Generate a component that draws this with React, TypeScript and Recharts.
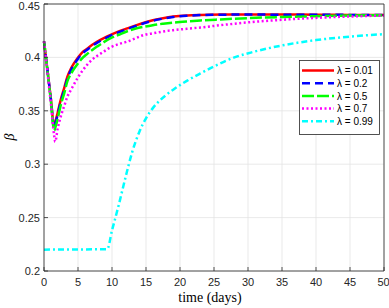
import React from 'react';
import { LineChart, Line, XAxis, YAxis, CartesianGrid, Legend } from 'recharts';

const timeMain = [0, 0.5, 1, 1.5, 1.65, 2, 2.45, 3, 3.43, 4, 4.9, 5.6, 6.4, 7.1, 7.84, 8.8, 9.8, 11, 12.25, 13.5, 14.7, 16, 17.5, 19, 21, 23, 26, 30, 35, 40, 45, 50];
const betaL001 = [0.415, 0.3885, 0.362, 0.3355, 0.339, 0.348, 0.36, 0.372, 0.3818, 0.39, 0.399, 0.4045, 0.4084, 0.4118, 0.4147, 0.418, 0.421, 0.4243, 0.4272, 0.43, 0.4325, 0.4347, 0.4367, 0.4382, 0.4393, 0.4398, 0.4401, 0.4402, 0.4401, 0.44, 0.4398, 0.4397];
const betaL02 = [0.415, 0.3885, 0.361, 0.334, 0.337, 0.346, 0.358, 0.37, 0.38, 0.3885, 0.3978, 0.4035, 0.4074, 0.4108, 0.4138, 0.4172, 0.4203, 0.4236, 0.4266, 0.4294, 0.432, 0.4343, 0.4363, 0.4378, 0.439, 0.4396, 0.44, 0.4401, 0.44, 0.4399, 0.4398, 0.4397];
const betaL05 = [0.415, 0.388, 0.36, 0.3315, 0.334, 0.342, 0.355, 0.367, 0.3775, 0.385, 0.3935, 0.399, 0.4035, 0.407, 0.4103, 0.4143, 0.418, 0.4212, 0.4245, 0.427, 0.4287, 0.4302, 0.4315, 0.4326, 0.4337, 0.4346, 0.4356, 0.4368, 0.4378, 0.4386, 0.4392, 0.4396];
const betaL07 = [0.415, 0.3865, 0.358, 0.3265, 0.321, 0.333, 0.3443, 0.355, 0.3631, 0.37, 0.3803, 0.387, 0.3935, 0.398, 0.4015, 0.4055, 0.4095, 0.4125, 0.4148, 0.418, 0.421, 0.4225, 0.4242, 0.4255, 0.4268, 0.428, 0.4302, 0.4328, 0.4352, 0.437, 0.4383, 0.4392];
const timeCyan = [0, 9.3, 10, 11, 12, 13, 14, 15, 16, 17, 18, 19, 21, 23, 25, 28, 31, 35, 40, 45, 50];
const betaL099 = [0.22, 0.2205, 0.238, 0.262, 0.288, 0.312, 0.33, 0.343, 0.3525, 0.3595, 0.365, 0.3698, 0.378, 0.385, 0.3915, 0.4, 0.4055, 0.4112, 0.4162, 0.4195, 0.4218];

const seriesNames = ['\u03bb = 0.01', '\u03bb = 0.2', '\u03bb = 0.5', '\u03bb = 0.7', '\u03bb = 0.99'];
const xTicks = [0, 5, 10, 15, 20, 25, 30, 35, 40, 45, 50];
const yTicks = [0.2, 0.25, 0.3, 0.35, 0.4, 0.45];
const yTickLabels = ['0.2', '0.25', '0.3', '0.35', '0.4', '0.45'];

const toData = (ts: number[], vs: number[]) => ts.map((t, i) => ({ t, v: vs[i] }));

const series = [
  { name: seriesNames[0], data: toData(timeMain, betaL001), color: '#ff0000', dash: undefined as string | undefined },
  { name: seriesNames[1], data: toData(timeMain, betaL02), color: '#0000ff', dash: '8 5' },
  { name: seriesNames[2], data: toData(timeMain, betaL05), color: '#00ff00', dash: '12 3' },
  { name: seriesNames[3], data: toData(timeMain, betaL07), color: '#ff00ff', dash: '2 2.5' },
  { name: seriesNames[4], data: toData(timeCyan, betaL099), color: '#00ffff', dash: '6 3 2 3' },
];

const axisColor = '#262626';
const tickFont = { fontFamily: '"Liberation Sans", Arial, sans-serif', fontSize: 11, fill: axisColor };

const LegendBox = () => (
  <svg width={81} height={75} style={{ display: 'block' }}>
    <rect x={0.5} y={0.5} width={80} height={74} fill="#ffffff" stroke={axisColor} strokeWidth={0.8} />
    {series.map((s, i) => {
      const cy = 10.5 + i * 12.7;
      return (
        <g key={s.name}>
          <line x1={3} x2={35} y1={cy} y2={cy} stroke={s.color} strokeWidth={2.5} strokeDasharray={s.dash} />
          <text x={38} y={cy + 3.6} fontFamily='"Liberation Sans", Arial, sans-serif' fontSize={10} fill="#000">{s.name}</text>
        </g>
      );
    })}
  </svg>
);

const XLabel = (props: any) => {
  const vb = props.viewBox || { x: 44, width: 340, y: 271 };
  return (
    <text x={vb.x + vb.width / 2 - 4} y={302} textAnchor="middle" fontFamily='"Liberation Serif", "Times New Roman", serif' fontSize={14} fill="#000">time (days)</text>
  );
};

const YLabel = () => (
  <text x={14} y={137} transform="rotate(-90 14 137)" textAnchor="middle" fontFamily='"Liberation Serif", "Times New Roman", serif' fontStyle="italic" fontSize={14} fill="#000">{'\u03b2'}</text>
);

export default function App() {
  return (
    <div style={{ position: 'absolute', left: 0, top: 0, width: 389, height: 308, background: '#fff' }}>
      <LineChart width={389} height={308} margin={{ top: 0, right: 0, bottom: 0, left: 0 }}>
        <CartesianGrid stroke="#e3e3e3" strokeWidth={0.8} />
        <XAxis
          xAxisId={0}
          dataKey="t"
          type="number"
          domain={[0, 50]}
          ticks={xTicks}
          height={37}
          tickSize={-4}
          tickMargin={11}
          stroke={axisColor}
          strokeWidth={0.8}
          tick={tickFont}
          allowDuplicatedCategory={false}
          label={<XLabel />}
        />
        <XAxis
          xAxisId="top"
          orientation="top"
          type="number"
          domain={[0, 50]}
          ticks={xTicks}
          height={4}
          tickSize={-4}
          tick={false}
          stroke={axisColor}
          strokeWidth={0.8}
        />
        <YAxis
          yAxisId={0}
          type="number"
          domain={[0.2, 0.45]}
          ticks={yTicks}
          width={44}
          tickSize={-4}
          tickMargin={8}
          stroke={axisColor}
          strokeWidth={0.8}
          tick={tickFont}
          tickFormatter={(v: number, i: number) => yTickLabels[i] ?? String(v)}
          allowDataOverflow
          label={<YLabel />}
        />
        <YAxis
          yAxisId="right"
          orientation="right"
          type="number"
          domain={[0.2, 0.45]}
          ticks={yTicks}
          width={5}
          tickSize={-4}
          tick={false}
          stroke={axisColor}
          strokeWidth={0.8}
        />
        {series.map((s) => (
          <Line
            key={s.name}
            xAxisId={0}
            yAxisId={0}
            data={s.data}
            dataKey="v"
            name={s.name}
            type="monotone"
            stroke={s.color}
            strokeWidth={2.5}
            strokeDasharray={s.dash}
            dot={false}
            activeDot={false}
            isAnimationActive={false}
          />
        ))}
        <Legend
          layout="vertical"
          align="center"
          verticalAlign="middle"
          content={() => <LegendBox />}
          wrapperStyle={{ position: 'absolute', left: 299, top: 60, width: 81, height: 75, margin: 0, padding: 0 }}
        />
      </LineChart>
    </div>
  );
}
